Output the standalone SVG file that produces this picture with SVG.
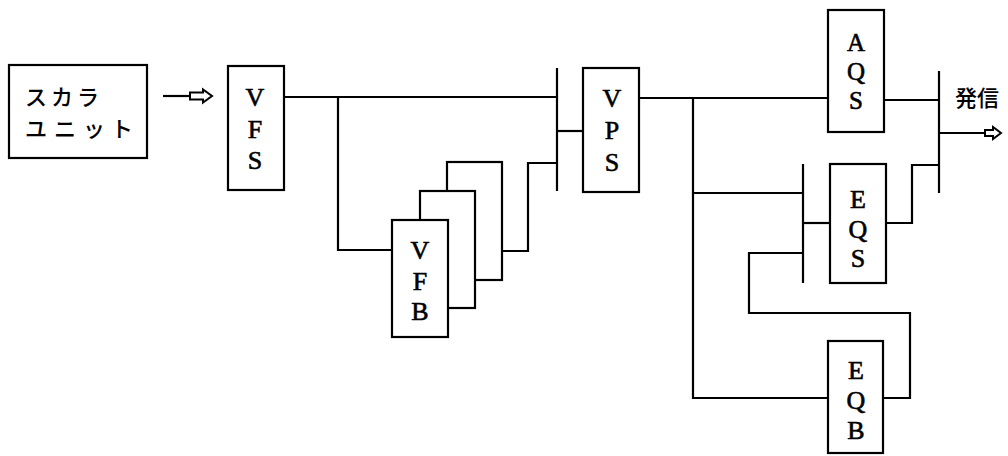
<svg xmlns="http://www.w3.org/2000/svg" width="1008" height="456" viewBox="0 0 1008 456">
<style>
.box{fill:#fff;stroke:#000;stroke-width:2.2}
.w{fill:none;stroke:#000;stroke-width:2.2;stroke-linejoin:miter}
.lbl{font-family:"Liberation Serif","Times New Roman",serif;font-size:26px;fill:#000;stroke:#000;stroke-width:0.6;text-anchor:middle}
.sm{font-size:25px}
.jp{font-family:"Noto Sans CJK JP","Noto Sans CJK SC",sans-serif;font-size:22px;font-weight:500;fill:#000}
.head{fill:#fff;stroke:#000;stroke-width:2}
</style>
<rect width="1008" height="456" fill="#fff"/>
<g id="connectors">
<line class="w" x1="163" y1="96" x2="191" y2="96"/>
<path class="head" d="M190,92.5 L203,92.5 L203,89.5 L212,96 L203,102.5 L203,99.5 L190,99.5 Z"/>
<polyline class="w" points="284,97 557,97"/>
<line class="w" x1="557" y1="68" x2="557" y2="191"/>
<polyline class="w" points="338,97 338,250 392,250"/>
<polyline class="w" points="502,251 528,251 528,163 557,163"/>
<line class="w" x1="557" y1="131" x2="583" y2="131"/>
<line class="w" x1="639" y1="98" x2="828" y2="98"/>
<polyline class="w" points="693,98 693,398 828,398"/>
<line class="w" x1="693" y1="193" x2="803" y2="193"/>
<line class="w" x1="803" y1="164" x2="803" y2="283"/>
<line class="w" x1="803" y1="223" x2="830" y2="223"/>
<polyline class="w" points="886,223 912,223 912,165 939,165"/>
<line class="w" x1="884" y1="100" x2="939" y2="100"/>
<line class="w" x1="939" y1="71" x2="939" y2="193"/>
<line class="w" x1="939" y1="133" x2="986" y2="133"/>
<path class="head" d="M985,130 L993,130 L993,127 L1001,133 L993,139 L993,136 L985,136 Z"/>
<polyline class="w" points="883,398 910,398 910,313 749,313 749,253 803,253"/>
</g>
<g id="scalar-unit">
<rect class="box" x="9" y="65" width="138" height="93"/>
<text class="jp" x="25 51 77" y="105">スカラ</text>
<text class="jp" x="25 54 83 111" y="137">ユニット</text>
</g>
<g id="VFS">
<rect class="box" x="228" y="66" width="56" height="124"/>
<text class="lbl"><tspan x="255" y="106">V</tspan><tspan x="255" y="138">F</tspan><tspan x="255" y="169">S</tspan></text>
</g>
<g id="VFB">
<rect class="box" x="447" y="162" width="55" height="118"/>
<rect class="box" x="420" y="191" width="55" height="117"/>
<rect class="box" x="392" y="220" width="56" height="117"/>
<text class="lbl"><tspan x="420" y="259">V</tspan><tspan x="420" y="290">F</tspan><tspan x="420" y="320">B</tspan></text>
</g>
<g id="VPS">
<rect class="box" x="583" y="68" width="56" height="124"/>
<text class="lbl"><tspan x="612" y="107">V</tspan><tspan x="612" y="139">P</tspan><tspan x="612" y="171">S</tspan></text>
</g>
<g id="AQS">
<rect class="box" x="828" y="10" width="56" height="122"/>
<text class="lbl sm"><tspan x="856" y="51">A</tspan><tspan x="856" y="80">Q</tspan><tspan x="856" y="109">S</tspan></text>
</g>
<g id="EQS">
<rect class="box" x="830" y="164" width="56" height="119"/>
<text class="lbl"><tspan x="858" y="208">E</tspan><tspan x="858" y="238">Q</tspan><tspan x="858" y="267">S</tspan></text>
</g>
<g id="EQB">
<rect class="box" x="828" y="341" width="55" height="112"/>
<text class="lbl"><tspan x="856" y="379">E</tspan><tspan x="856" y="409">Q</tspan><tspan x="856" y="439">B</tspan></text>
</g>
<g id="output-label">
<text class="jp" x="955" y="106">発信</text>
</g>
</svg>
